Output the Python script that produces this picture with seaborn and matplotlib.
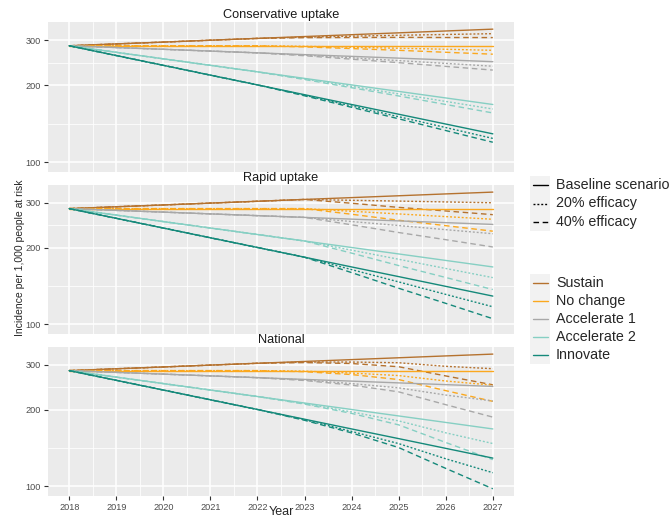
import numpy as np
import pandas as pd
import matplotlib
matplotlib.use("Agg")
import matplotlib.pyplot as plt
import seaborn as sns
from matplotlib.lines import Line2D
from matplotlib.patches import Rectangle
from matplotlib.ticker import FixedLocator, FixedFormatter, NullFormatter

years = [2018, 2019, 2020, 2021, 2022, 2023, 2024, 2025, 2026, 2027]
scenarios = ["Sustain", "No change", "Accelerate 1", "Accelerate 2", "Innovate"]
efficacies = ["Baseline scenario", "20% efficacy", "40% efficacy"]
panels = ["Conservative uptake", "Rapid uptake", "National"]

# baseline incidence, 2018-2027
baseline = {
    "Sustain":      [285, 289.8, 294.6, 299.6, 304.6, 309.7, 314.9, 320.2, 325.6, 331.0],
    "No change":    [285, 285, 285, 285, 285, 285, 285, 285, 285, 285],
    "Accelerate 1": [285, 280.5, 276.1, 271.7, 267.4, 263.2, 259.1, 255.0, 251.0, 247.0],
    "Accelerate 2": [285, 268.7, 253.4, 239.0, 225.4, 212.5, 200.4, 189.0, 178.2, 168.0],
    "Innovate":     [285, 261.0, 239.0, 218.8, 200.4, 183.5, 168.0, 153.9, 140.9, 129.0],
}

# vaccine scenarios, 2023-2027 (identical to baseline before)
conservative_20 = {
    "Sustain":      [308.1, 310.8, 313.2, 315.5, 317.8],
    "No change":    [283.6, 281.3, 278.7, 276.2, 273.6],
    "Accelerate 1": [261.9, 255.7, 249.4, 243.2, 237.1],
    "Accelerate 2": [211.4, 197.8, 184.8, 172.7, 161.3],
    "Innovate":     [182.6, 165.8, 150.5, 136.5, 123.8],
}
conservative_40 = {
    "Sustain":      [306.6, 307.0, 307.4, 307.0, 306.8],
    "No change":    [282.2, 277.9, 273.6, 268.8, 264.2],
    "Accelerate 1": [260.6, 252.6, 244.8, 236.7, 229.0],
    "Accelerate 2": [210.4, 195.4, 181.4, 168.0, 155.7],
    "Innovate":     [181.7, 163.8, 147.7, 132.9, 119.6],
}
rapid_20 = {
    "Sustain":      [309.7, 307.3, 305.1, 302.8, 300.5],
    "No change":    [285.0, 278.2, 271.6, 265.1, 258.8],
    "Accelerate 1": [263.2, 253.5, 244.5, 235.5, 227.0],
    "Accelerate 2": [212.5, 195.6, 180.1, 165.7, 152.5],
    "Innovate":     [183.5, 164.0, 146.7, 131.0, 117.1],
}
rapid_40 = {
    "Sustain":      [309.7, 299.2, 288.2, 279.0, 269.8],
    "No change":    [285.0, 270.8, 256.5, 244.2, 232.3],
    "Accelerate 1": [263.2, 246.1, 229.5, 215.1, 201.3],
    "Accelerate 2": [212.5, 190.4, 170.1, 152.7, 136.9],
    "Innovate":     [183.5, 159.6, 138.5, 120.8, 105.1],
}
national_20 = {
    "Sustain":      [308.2, 308.0, 306.1, 296.3, 290.0],
    "No change":    [283.6, 278.7, 272.5, 259.4, 249.7],
    "Accelerate 1": [261.9, 253.4, 243.8, 228.4, 216.4],
    "Accelerate 2": [211.4, 196.0, 180.7, 162.2, 147.2],
    "Innovate":     [182.6, 164.3, 147.1, 128.2, 113.0],
}
national_40 = {
    "Sustain":      [306.6, 303.9, 295.2, 271.6, 250.6],
    "No change":    [282.2, 275.0, 262.8, 237.7, 215.7],
    "Accelerate 1": [260.6, 250.0, 235.1, 209.3, 187.0],
    "Accelerate 2": [210.4, 193.4, 174.3, 148.6, 127.2],
    "Innovate":     [181.7, 162.1, 141.9, 117.5, 97.7],
}

vaccine = {
    "Conservative uptake": (conservative_20, conservative_40),
    "Rapid uptake": (rapid_20, rapid_40),
    "National": (national_20, national_40),
}

rows = []
for panel in panels:
    v20, v40 = vaccine[panel]
    for sc in scenarios:
        series = {
            "Baseline scenario": baseline[sc],
            "20% efficacy": baseline[sc][:5] + v20[sc],
            "40% efficacy": baseline[sc][:5] + v40[sc],
        }
        for eff in efficacies:
            for yr, val in zip(years, series[eff]):
                rows.append((panel, sc, eff, yr, val))
df = pd.DataFrame(rows, columns=["panel", "scenario", "efficacy", "year", "value"])

palette = {
    "Sustain": "#B5722F",
    "No change": "#FBA81E",
    "Accelerate 1": "#A8A8A8",
    "Accelerate 2": "#86CFC3",
    "Innovate": "#15897A",
}
dashes = {
    "Baseline scenario": "",
    "20% efficacy": (1.4, 1.4),
    "40% efficacy": (4, 2.6),
}

sns.set_style("darkgrid")
plt.rcParams["font.family"] = ["Liberation Sans", "DejaVu Sans"]

W, H = 672, 519
fig = plt.figure(figsize=(W / 100, H / 100), dpi=100)

# panel boxes in pixels: (top, bottom)
boxes = [(22, 172), (185, 334), (347, 496)]
left_px, right_px = 48, 514

for i, (panel, (top, bot)) in enumerate(zip(panels, boxes)):
    ax = fig.add_axes([left_px / W, 1 - bot / H, (right_px - left_px) / W, (bot - top) / H])
    ax.set_facecolor("#EBEBEB")
    sns.lineplot(data=df[df.panel == panel], x="year", y="value",
                 hue="scenario", style="efficacy", hue_order=scenarios,
                 style_order=efficacies, palette=palette, dashes=dashes,
                 linewidth=1.0, legend=False, ax=ax)
    ax.set_yscale("log")
    ax.set_ylim(91.5, 353)
    ax.set_xlim(2017.55, 2027.45)
    ax.yaxis.set_major_locator(FixedLocator([100, 200, 300]))
    ax.yaxis.set_major_formatter(FixedFormatter(["100", "200", "300"]))
    ax.yaxis.set_minor_locator(FixedLocator([141.4, 244.9]))
    ax.yaxis.set_minor_formatter(NullFormatter())
    ax.xaxis.set_major_locator(FixedLocator(years))
    ax.xaxis.set_minor_locator(FixedLocator([y + 0.5 for y in years[:-1]]))
    ax.grid(which="major", color="white", linewidth=1.1)
    ax.grid(which="minor", color="white", linewidth=0.55)
    ax.set_axisbelow(True)
    for s in ax.spines.values():
        s.set_visible(False)
    ax.tick_params(which="minor", length=0)
    ax.tick_params(axis="y", which="major", length=3, width=0.8, color="#333333",
                   labelsize=6.6, labelcolor="#4D4D4D", pad=2, left=True)
    if i < 2:
        ax.tick_params(axis="x", which="major", length=0, labelbottom=False)
    else:
        ax.tick_params(axis="x", which="major", length=3, width=0.8, color="#333333",
                       labelsize=6.6, labelcolor="#4D4D4D", pad=2, bottom=True)
        ax.set_xticklabels([str(y) for y in years])
    ax.set_xlabel("")
    ax.set_ylabel("")
    ax.set_title(panel, fontsize=9.2, color="#1A1A1A", pad=3)

fig.text(281 / W, 1 - 512 / H, "Year", ha="center", va="center", fontsize=9)
fig.text(20 / W, 1 - 258 / H, "Incidence per 1,000 people at risk", rotation=90,
         ha="center", va="center", fontsize=7.5)

# legends
def legend_block(entries, ys, box):
    x0, y0, x1, y1 = box
    fig.patches.append(Rectangle((x0 / W, 1 - y1 / H), (x1 - x0) / W, (y1 - y0) / H,
                                 transform=fig.transFigure, facecolor="#F2F2F2",
                                 edgecolor="none", zorder=0))
    for (label, color, ls), y in zip(entries, ys):
        fig.lines.append(Line2D([533 / W, 548 / W], [1 - y / H, 1 - y / H],
                                transform=fig.transFigure, color=color,
                                linewidth=1.0, linestyle=ls))
        fig.text(556 / W, 1 - y / H, label, ha="left", va="center", fontsize=10.3)

legend_block([(e, "black", (0, dashes[e]) if dashes[e] else "-") for e in efficacies],
             [185, 203.5, 222], (530, 176, 550, 231))
legend_block([(s, palette[s], "-") for s in scenarios],
             [283, 301, 319, 337, 355], (530, 274, 550, 364))

fig.savefig("out.png", dpi=100)
